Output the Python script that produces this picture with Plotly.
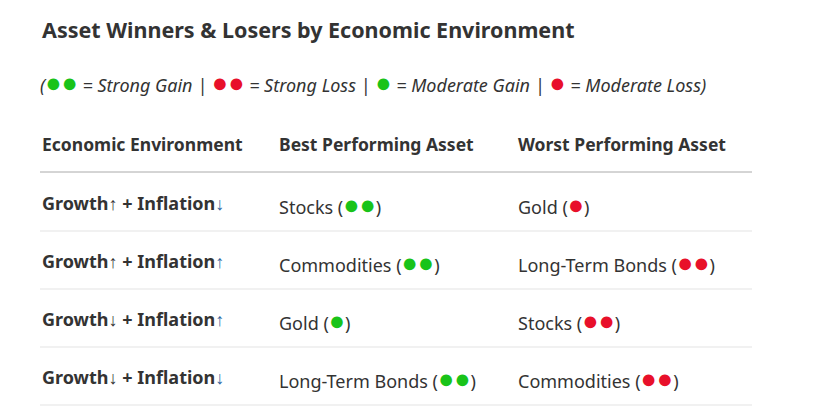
import plotly.graph_objects as go

environments = [("↑", "↓"), ("↑", "↑"), ("↓", "↑"), ("↓", "↓")]
best_assets = ["Stocks", "Commodities", "Gold", "Long-Term Bonds"]
best_strength = [2, 2, 1, 2]
worst_assets = ["Gold", "Long-Term Bonds", "Stocks", "Commodities"]
worst_strength = [1, 2, 2, 2]
headers = ["Economic Environment", "Best Performing Asset", "Worst Performing Asset"]

W, H = 838, 415
OFF = 8  # page body margin
GREEN, RED = "#19c319", "#e8102a"
FONT = "Noto Sans"

def dots(color, n, size=27):
    return "".join(f'<span style="color:{color};font-size:{size}px">●</span>' for _ in range(n))

fig = go.Figure()
ann = []
def add(x, y, text, size=18, color="#333", **kw):
    ann.append(dict(x=(x - OFF) / W, y=1 - (y - OFF) / H, xref="paper", yref="paper", text=text,
                    showarrow=False, xanchor="left", yanchor="middle",
                    font=dict(family=FONT, size=size, color=color), **kw))

add(40, 29, "<b>Asset Winners &amp; Losers by Economic Environment</b>", size=21.5)
legend = (f"<i>({dots(GREEN,2)} = Strong Gain | {dots(RED,2)} = Strong Loss | "
          f"{dots(GREEN,1)} = Moderate Gain | {dots(RED,1)} = Moderate Loss)</i>")
add(38, 82, legend, size=18)

cols = [40, 277, 516]
for c, h in zip(cols, headers):
    add(c, 144, f"<b>{h}</b>", size=17.5)

rows_y = [203, 261, 319, 377]
for (g, i), b, bs, w, ws, y in zip(environments, best_assets, best_strength,
                                   worst_assets, worst_strength, rows_y):
    add(cols[0], y, f'<b>Growth</b>{g}<b> + Inflation</b><span style="color:#2f66a0">{i}</span>', size=18)
    add(cols[1], y, f"{b} ({dots(GREEN, bs)})", size=18)
    add(cols[2], y, f"{w} ({dots(RED, ws)})", size=18)

def hline(py, color):
    return dict(type="line", xref="paper", yref="paper", x0=(40 - OFF) / W, x1=(752 - OFF) / W,
                y0=1 - (py - OFF) / H, y1=1 - (py - OFF) / H, line=dict(color=color, width=1))

shapes = [hline(172, "#aaaaaa")] + [hline(ly, "#e3e3e3") for ly in [231, 289, 347, 405]]

fig.update_layout(width=W, height=H, margin=dict(l=0, r=0, t=0, b=0),
                  paper_bgcolor="white", plot_bgcolor="white",
                  xaxis=dict(visible=False), yaxis=dict(visible=False),
                  annotations=ann, shapes=shapes)
fig.write_html("out.html")
